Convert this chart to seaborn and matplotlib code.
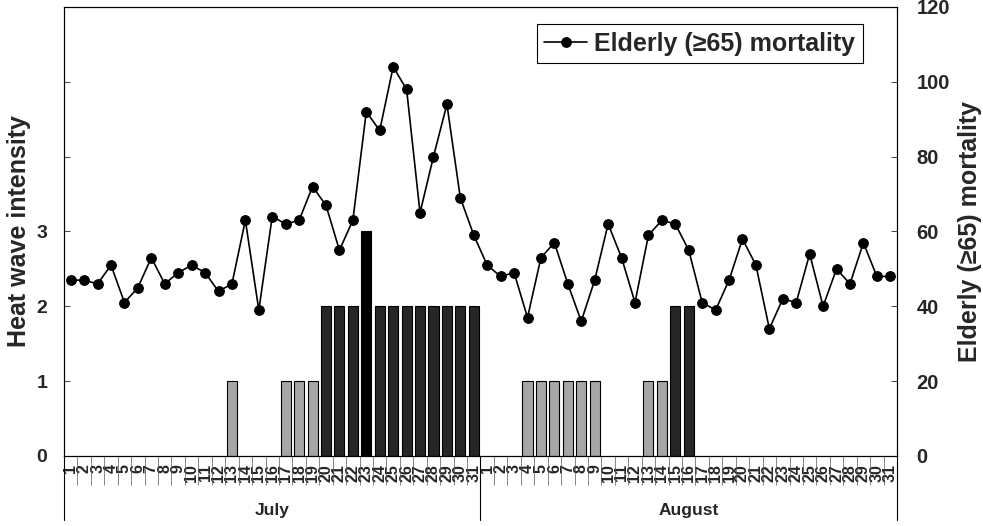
import numpy as np
import pandas as pd
import matplotlib
matplotlib.use("Agg")
import matplotlib.pyplot as plt
import seaborn as sns
from matplotlib.transforms import blended_transform_factory

# ---------------- data ----------------
july_days = list(range(1, 32))
august_days = list(range(1, 32))
months = ["July", "August"]

intensity_july = [0, 0, 0, 0, 0, 0, 0, 0, 0, 0, 0, 0, 1, 0, 0, 0, 1, 1, 1, 2,
                  2, 2, 3, 2, 2, 2, 2, 2, 2, 2, 2]
intensity_august = [0, 0, 0, 1, 1, 1, 1, 1, 1, 0, 0, 0, 1, 1, 2, 2, 0, 0, 0, 0,
                    0, 0, 0, 0, 0, 0, 0, 0, 0, 0, 0]

mortality_july = [47, 47, 46, 51, 41, 45, 53, 46, 49, 51, 49, 44, 46, 63, 39, 64,
                  62, 63, 72, 67, 55, 63, 92, 87, 104, 98, 65, 80, 94, 69, 59]
mortality_august = [51, 48, 49, 37, 53, 57, 46, 36, 47, 62, 53, 41, 59, 63, 62, 55,
                    41, 39, 47, 58, 51, 34, 42, 41, 54, 40, 50, 46, 57, 48, 48]

series_label = "Elderly (\u226565) mortality"
left_label = "Heat wave intensity"
right_label = "Elderly (\u226565) mortality"

# ---------------- frame ----------------
day_labels = [str(d) for d in july_days + august_days]
n = len(day_labels)
pos = list(range(n))
df = pd.DataFrame({
    "pos": pos,
    "intensity": intensity_july + intensity_august,
    "mortality": mortality_july + mortality_august,
})
df["level"] = df["intensity"].astype(str)

sns.set_style("ticks")
plt.rcParams["font.family"] = ["Liberation Sans", "DejaVu Sans"]
plt.rcParams["axes.edgecolor"] = "black"
plt.rcParams["axes.linewidth"] = 0.8

fig = plt.figure(figsize=(9.83, 5.26), dpi=100)
ax = fig.add_axes([0.0651, 0.1331, 0.8474, 0.8536])

palette = {"0": "white", "1": "#a6a6a6", "2": "#262626", "3": "#000000"}
sns.barplot(data=df, x="pos", y="intensity", hue="level", palette=palette,
            order=pos, hue_order=["0", "1", "2", "3"], dodge=False, width=0.75,
            edgecolor="black", linewidth=0.8, legend=False, ax=ax)
for p in ax.patches:
    if p.get_height() == 0:
        p.set_visible(False)

ax.set_xlim(-0.5, n - 0.5)
ax.set_ylim(0, 6)
ax.set_yticks([0, 1, 2, 3, 4, 5, 6])
ax.set_yticklabels(["0", "1", "2", "3", "", "", ""], fontsize=14, fontweight="bold")
ax.tick_params(axis="y", direction="in", length=4, width=0.6, pad=12)
ax.set_ylabel(left_label, fontsize=18, fontweight="bold", labelpad=4)
ax.set_xlabel("")

ax.set_xticks(pos)
ax.set_xticklabels(day_labels, rotation=90, fontsize=11.5, fontweight="bold", va="top")
ax.tick_params(axis="x", which="major", length=0, pad=6)
ax.set_xticks(np.arange(-0.5, n, 1), minor=True)
ax.tick_params(axis="x", which="minor", length=21, width=0.5, color="#555555", direction="out")

# ---------------- mortality line ----------------
ax2 = ax.twinx()
sns.lineplot(data=df, x="pos", y="mortality", ax=ax2, color="black", marker="o",
             markersize=7, markeredgecolor="black", linewidth=1.2, label=series_label)
ax2.set_ylim(0, 120)
ax2.set_yticks(np.arange(0, 121, 20))
ax2.set_yticklabels([str(v) for v in range(0, 121, 20)], fontsize=14.5, fontweight="bold")
ax2.tick_params(axis="y", direction="in", length=4, width=0.6, pad=14)
ax2.set_ylabel(right_label, fontsize=18, fontweight="bold", labelpad=6)
ax2.set_xlim(-0.5, n - 0.5)

leg = ax2.legend(loc="upper right", bbox_to_anchor=(0.959, 0.962), borderaxespad=0,
                 frameon=True, fancybox=False, framealpha=1, edgecolor="black",
                 prop={"size": 18, "weight": "bold"}, handlelength=1.7,
                 handletextpad=0.3, borderpad=0.3)
leg.get_frame().set_linewidth(0.8)

# ---------------- month separators and labels ----------------
trans = blended_transform_factory(ax.transData, ax.transAxes)
for xv in [-0.5, len(july_days) - 0.5, n - 0.5]:
    ax.plot([xv, xv], [0, -0.143], transform=trans, clip_on=False,
            color="black", lw=0.8)
centers = [(len(july_days) - 1) / 2, len(july_days) + (len(august_days) - 1) / 2]
for m, c in zip(months, centers):
    ax.text(c, -0.122, m, transform=trans, ha="center", va="center",
            fontsize=12.5, fontweight="bold")

fig.savefig("out.png", dpi=100)
